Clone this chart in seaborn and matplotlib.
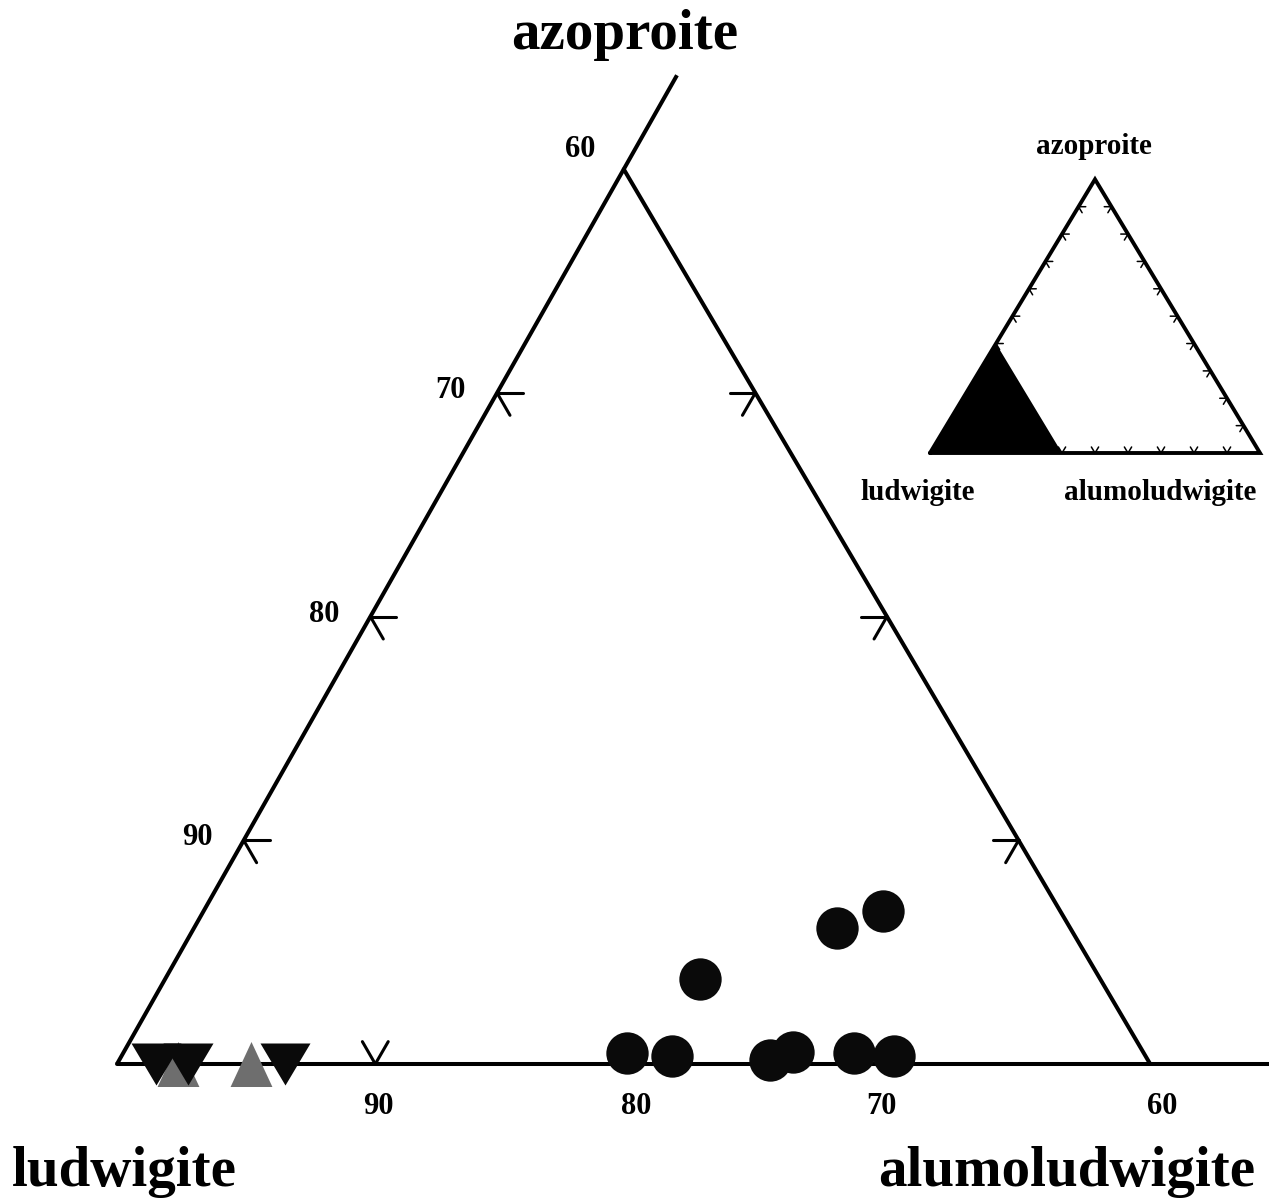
import numpy as np
import pandas as pd
import matplotlib
matplotlib.use("Agg")
import matplotlib.pyplot as plt
import seaborn as sns

# ---------------- data (percent of end-members) ----------------
circle_alumoludwigite = [19.5, 21.3, 25.2, 25.9, 28.3, 29.9, 20.7, 24.9, 26.3]
circle_azoproite      = [0.5, 0.35, 0.2, 0.55, 0.5, 0.35, 3.8, 6.1, 6.85]
down_alumoludwigite   = [1.5, 2.75, 6.5]
down_azoproite        = [0.0, 0.0, 0.0]
up_alumoludwigite     = [2.35, 5.2]
up_azoproite          = [0.0, 0.0]

edge_ticks   = [70, 80, 90]          # ludwigite % on left/right edges
bottom_vticks = [90]                 # visible V tick on bottom edge
bottom_ticks = [90, 80, 70, 60]      # ludwigite % labels on bottom edge
left_labels  = [60, 70, 80, 90]
inset_ticks  = [10, 20, 30, 40, 50, 60, 70, 80, 90]

SQ = np.sqrt(3) / 2
SHEAR = 0.011   # slight lean of the printed diagram


def tern(alumo, azo):
    alumo = np.asarray(alumo, float)
    azo = np.asarray(azo, float)
    y = azo * SQ
    return alumo + azo / 2 - SHEAR * y, y


sns.set_theme(style="white")
plt.rcParams["font.family"] = ["Liberation Serif", "DejaVu Serif"]
plt.rcParams["font.weight"] = "bold"
plt.rcParams["text.color"] = "black"

W, H = 1269, 1201
fig = plt.figure(figsize=(W / 100, H / 100), dpi=100)
fig.patch.set_facecolor("white")

# main axes: 1 unit = 25.83 px, ludwigite corner at pixel (117, 1064)
S = 25.83
ox, oy = 117, 1064
ax = fig.add_axes([0, 0, 1, 1])
ax.set_xlim(-ox / S, (W - ox) / S)
ax.set_ylim(-(H - oy) / S, oy / S)
ax.axis("off")

LW = 2.9
k = "black"
# frame
apx, apy = tern(0, 40)
ext_x, ext_y = tern(0, 44.2)
r0x, r0y = tern(40, 0)
ax.plot([0, ext_x], [0, ext_y], color=k, lw=LW, solid_capstyle="butt", zorder=2)
ax.plot([0, (W - ox) / S], [0, 0], color=k, lw=LW, zorder=2)
ax.plot([r0x, apx], [r0y, apy], color=k, lw=LW, zorder=2)

# ticks
TL = 1.0
TW = 2.2
for L in edge_ticks:
    A = 100 - L
    px, py = tern(0, A)
    ax.plot([px, px + TL], [py, py], color=k, lw=TW, zorder=2)
    ax.plot([px, px + TL * 0.5], [py, py - TL * SQ], color=k, lw=TW, zorder=2)
    qx, qy = tern(40 - A, A)
    ax.plot([qx, qx - TL], [qy, qy], color=k, lw=TW, zorder=2)
    ax.plot([qx, qx - TL * 0.5], [qy, qy - TL * SQ], color=k, lw=TW, zorder=2)
for L in bottom_vticks:
    bx, by = tern(100 - L, 0)
    ax.plot([bx, bx - TL * 0.5], [by, by + TL * SQ], color=k, lw=TW, zorder=2)
    ax.plot([bx, bx + TL * 0.5], [by, by + TL * SQ], color=k, lw=TW, zorder=2)

# tick labels
for L in left_labels:
    px, py = tern(0, 100 - L)
    dy = 0.75 if L == 60 else 0.1
    ddx = -1.7 if L == 60 else -1.8
    ax.text(px + ddx, py + dy, str(L), fontsize=22, fontweight="bold",
            ha="center", va="center", color=k)
for L in bottom_ticks:
    bx, by = tern(100 - L, 0)
    dx = 0.45 if L == 60 else (-0.4 if L == 70 else 0.1)
    ax.text(bx + dx, by - 1.65, str(L), fontsize=22, fontweight="bold",
            ha="center", va="center", color=k)

# corner labels
ax.text((625 - ox) / S, (oy - 35) / S, "azoproite", fontsize=41,
        fontweight="bold", ha="center", va="center", color=k)
ax.text((124 - ox) / S, (oy - 1172) / S, "ludwigite", fontsize=41,
        fontweight="bold", ha="center", va="center", color=k)
ax.text((1067 - ox) / S, (oy - 1172) / S, "alumoludwigite", fontsize=41,
        fontweight="bold", ha="center", va="center", color=k)

# data points
cx, cy = tern(circle_alumoludwigite, circle_azoproite)
dx_, dy_ = tern(down_alumoludwigite, down_azoproite)
ux, uy = tern(up_alumoludwigite, up_azoproite)
df_c = pd.DataFrame({"x": cx, "y": cy})
df_d = pd.DataFrame({"x": dx_, "y": dy_})
df_u = pd.DataFrame({"x": ux, "y": uy})

up_marker = [(-0.93, -1.0), (0.93, -1.0), (0.0, 1.0), (-0.93, -1.0)]
down_marker = [(-1.0, 0.84), (1.0, 0.84), (0.0, -0.84), (-1.0, 0.84)]

sns.scatterplot(data=df_u, x="x", y="y", ax=ax, marker=up_marker, s=1050,
                color="#6e6e6e", linewidth=0, zorder=3, legend=False)
sns.scatterplot(data=df_d, x="x", y="y", ax=ax, marker=down_marker, s=1296,
                color="#0a0a0a", linewidth=0, zorder=4, legend=False)
sns.scatterplot(data=df_c, x="x", y="y", ax=ax, marker="o", s=930,
                color="#0a0a0a", linewidth=0, zorder=4, legend=False)
ax.set_xlim(-ox / S, (W - ox) / S)
ax.set_ylim(-(H - oy) / S, oy / S)
ax.set_xlabel("")
ax.set_ylabel("")

# ---------------- inset ----------------
ISX = 330.0
ISY = 316.0
iox, ioy = 930, 453
bx0, bx1, by0, by1 = 850, 1269, 120, 520
iax = fig.add_axes([bx0 / W, (H - by1) / H, (bx1 - bx0) / W, (by1 - by0) / H])
iax.set_xlim((bx0 - iox) / ISX, (bx1 - iox) / ISX)
iax.set_ylim((ioy - by1) / ISY, (ioy - by0) / ISY)
iax.axis("off")
iax.patch.set_alpha(0)


def tern1(alumo, azo):
    return alumo + azo / 2, azo * SQ


# black sub-region ludwigite >= 60
sx = [tern1(0, 0)[0], tern1(0.4, 0)[0], tern1(0, 0.4)[0]]
sy = [tern1(0, 0)[1], tern1(0.4, 0)[1], tern1(0, 0.4)[1]]
iax.fill(sx, sy, color="black", lw=0, zorder=1)
tx = [0, 1, 0.5, 0]
ty = [0, 0, SQ, 0]
iax.plot(tx, ty, color="black", lw=2.8, zorder=2, solid_joinstyle="miter")

t = 0.022
for v in inset_ticks:
    f = v / 100
    if f >= 0.4:
        x0, y0 = tern1(f, 0)
        iax.plot([x0 - t * 0.5, x0, x0 + t * 0.5], [t * SQ, 0, t * SQ],
                 color="black", lw=1.1, zorder=2)
    if f >= 0.4:
        x0, y0 = tern1(0, f)
        iax.plot([x0 + t, x0, x0 + t * 0.5], [y0, y0, y0 - t * SQ],
                 color="black", lw=1.1, zorder=2)
    x0, y0 = tern1(1 - f, f)
    iax.plot([x0 - t, x0, x0 - t * 0.5], [y0, y0, y0 - t * SQ],
             color="black", lw=1.1, zorder=2)

iax.text((1094 - iox) / ISX, (ioy - 147) / ISY, "azoproite", fontsize=21,
         fontweight="bold", ha="center", va="center", color="black")
iax.text((918 - iox) / ISX, (ioy - 493) / ISY, "ludwigite", fontsize=21,
         fontweight="bold", ha="center", va="center", color="black")
iax.text((1160 - iox) / ISX, (ioy - 493) / ISY, "alumoludwigite", fontsize=21,
         fontweight="bold", ha="center", va="center", color="black")

fig.savefig("out.png", dpi=100, facecolor="white")
